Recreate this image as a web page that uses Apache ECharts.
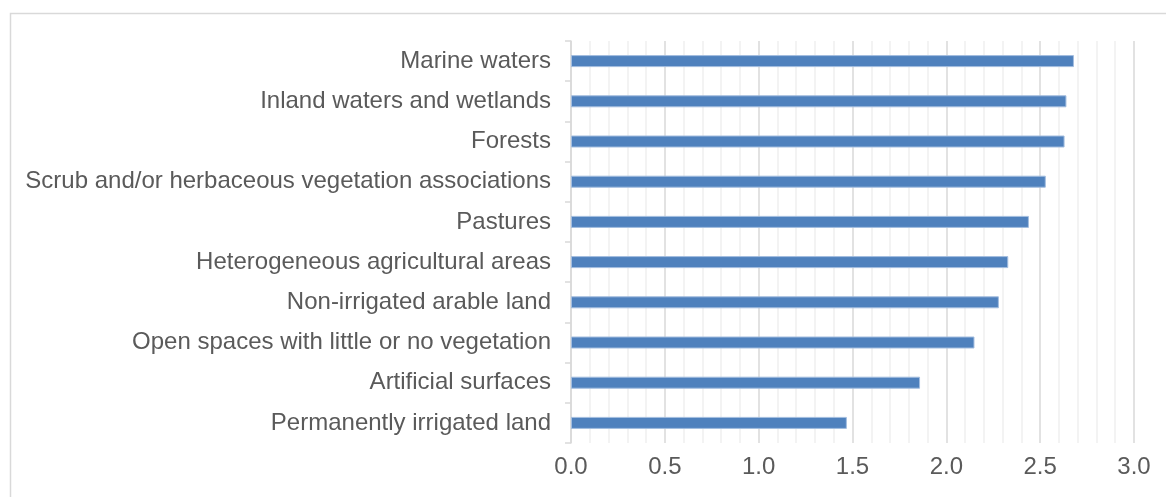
<!DOCTYPE html>
<html>
<head>
<meta charset="utf-8">
<title>Land cover</title>
<script src="https://cdn.jsdelivr.net/npm/echarts@6/dist/echarts.min.js"></script>
<style>
	html, body { margin: 0; padding: 0; background: #fff; }
	#main { width: 1166px; height: 497px; }
</style>
</head>
<body>
<div id="main"></div>
<script>
// categories, top to bottom as in the picture
var categories = [
	'Marine waters',
	'Inland waters and wetlands',
	'Forests',
	'Scrub and/or herbaceous vegetation associations',
	'Pastures',
	'Heterogeneous agricultural areas',
	'Non-irrigated arable land',
	'Open spaces with little or no vegetation',
	'Artificial surfaces',
	'Permanently irrigated land'
];
var values = [2.68, 2.64, 2.63, 2.53, 2.44, 2.33, 2.28, 2.15, 1.86, 1.47];
var xTicks = ['0.0', '0.5', '1.0', '1.5', '2.0', '2.5', '3.0'];

var chart = echarts.init(document.getElementById('main'));

var textColor = '#5a5a5a';
var fontName = 'Liberation Sans, Arial, sans-serif';

var option = {
	animation: false,
	backgroundColor: '#fff',
	// border of the chart area (only top and left show)
	graphic: [{
		type: 'rect',
		left: 8,
		top: 11,
		shape: { width: 1200, height: 600 },
		style: { fill: 'none', stroke: '#d9d9d9', lineWidth: 1.5 },
		silent: true
	}],
	grid: {
		left: 571,
		right: 32,
		top: 41,
		bottom: 54
	},
	xAxis: {
		type: 'value',
		min: 0,
		max: 3,
		interval: 0.5,
		axisLine: { show: false },
		axisTick: { show: false },
		axisLabel: {
			margin: 12,
			color: textColor,
			fontSize: 24,
			fontFamily: fontName,
			formatter: function(v) {
				return xTicks[Math.round(v / 0.5)];
			}
		},
		splitLine: {
			show: true,
			lineStyle: { color: '#d9d9d9', width: 1.5 }
		},
		minorTick: { show: false, splitNumber: 5 },
		minorSplitLine: {
			show: true,
			lineStyle: { color: '#f0f0f0', width: 1.5 }
		}
	},
	yAxis: {
		type: 'category',
		data: categories,
		inverse: true,
		axisLine: { show: true, lineStyle: { color: '#d9d9d9', width: 1.5 } },
		axisTick: { show: true, length: 6, lineStyle: { color: '#d9d9d9', width: 1.5 } },
		axisLabel: {
			margin: 20,
			color: textColor,
			fontSize: 24,
			fontFamily: fontName
		}
	},
	series: [{
		type: 'bar',
		data: values,
		barWidth: 12,
		itemStyle: {
			color: '#4f81bd',
			borderColor: '#a3bddf',
			borderWidth: 1
		}
	}]
};

chart.setOption(option);
</script>
</body>
</html>
